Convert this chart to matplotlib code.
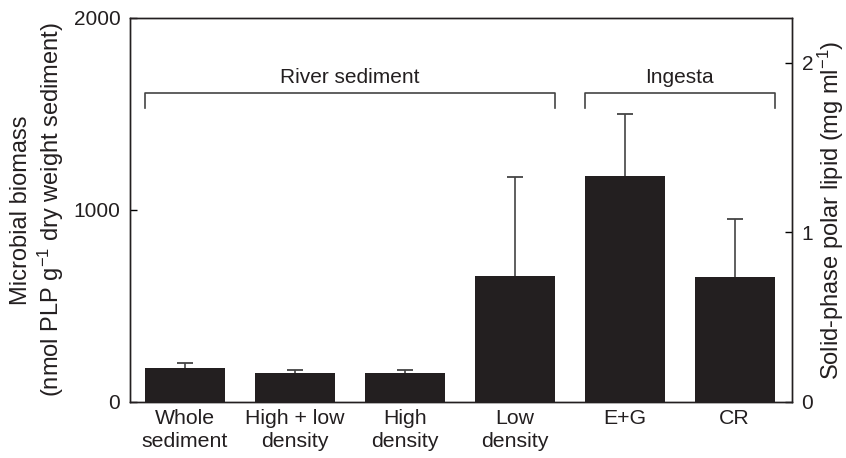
import matplotlib
matplotlib.use("Agg")
import matplotlib.pyplot as plt
import numpy as np

plt.rcParams['font.family'] = ['Liberation Sans', 'DejaVu Sans']
plt.rcParams['mathtext.fontset'] = 'custom'
plt.rcParams['mathtext.rm'] = 'Liberation Sans'
plt.rcParams['mathtext.it'] = 'Liberation Sans:italic'
plt.rcParams['mathtext.bf'] = 'Liberation Sans:bold'

# -------------------------------
# DATA
# -------------------------------
categories = ["Whole\nsediment", "High + low\ndensity", "High\ndensity",
              "Low\ndensity", "E+G", "CR"]
biomass = [178, 151, 151, 656, 1175, 653]
biomass_err = [25, 17, 17, 514, 323, 302]
groups = ["River sediment", "Ingesta"]
group_span = [(0, 3), (4, 5)]

# -------------------------------
# PLOT
# -------------------------------
fig = plt.figure(figsize=(8.46, 4.58), dpi=100)
ax = fig.add_axes([0.1537, 0.1223, 0.936 - 0.1537, 0.9607 - 0.1223])

x = np.arange(len(categories))
width = 0.727
cap = 0.072
bar_color = "#231f20"
err_color = "#444444"
tops = np.array(biomass) + np.array(biomass_err)
ax.vlines(x, biomass, tops, color=err_color, lw=1.2, zorder=1)
ax.hlines(tops, x - cap, x + cap, color=err_color, lw=1.3, zorder=1)
ax.bar(x, biomass, width=width, color=bar_color, zorder=2)

ax.set_xlim(-0.5, 5.52)
ax.set_ylim(0, 2000)
ax.set_yticks([0, 1000, 2000])
ax.set_xticks(x)
ax.set_xticklabels(categories, fontsize=15.3, color="#231f20", linespacing=1.25)
ax.tick_params(axis="x", length=0, pad=5)
ax.tick_params(axis="y", direction="in", length=5, width=1, labelsize=15, pad=7,
               labelcolor="#231f20")
for s in ax.spines.values():
    s.set_linewidth(1.0)
    s.set_color("#231f20")

ax.set_ylabel("Microbial biomass\n(nmol PLP g$^{-1}$ dry weight sediment)",
              fontsize=17, color="#231f20", linespacing=1.15)
ax.yaxis.set_label_coords(-0.0967, 0.5)

# group brackets
bracket_y = 1609
tick_drop = 78
for name, (a, b) in zip(groups, group_span):
    x0 = a - width / 2
    x1 = b + width / 2
    ax.plot([x0, x0, x1, x1], [bracket_y - tick_drop, bracket_y, bracket_y, bracket_y - tick_drop],
            color=err_color, lw=1.2, clip_on=False)
    ax.text((x0 + x1) / 2, bracket_y + 30, name, ha="center", va="bottom",
            fontsize=15, color="#231f20")

# right axis
ax2 = ax.twinx()
ax2.set_ylim(0, 2.265)
ax2.set_yticks([0, 1, 2])
ax2.tick_params(axis="y", direction="in", length=5, width=1, labelsize=15, pad=7,
                labelcolor="#231f20")
for s in ax2.spines.values():
    s.set_linewidth(1.0)
    s.set_color("#231f20")
ax2.set_ylabel("Solid-phase polar lipid (mg ml$^{-1}$)", fontsize=17,
               color="#231f20")
ax2.yaxis.set_label_coords(1.036, 0.5)

fig.savefig("out.png", dpi=100)
